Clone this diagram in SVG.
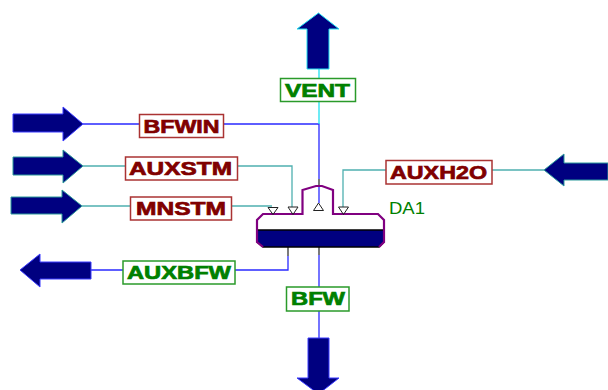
<svg xmlns="http://www.w3.org/2000/svg" width="608" height="390" viewBox="0 0 608 390">
<style>
.lbl{fill:#fff;stroke-width:1.5}
.r rect{stroke:#a33}
.g rect{stroke:#2a9a2a}
.lt{font-family:"Liberation Sans",Arial,sans-serif;font-weight:700;font-size:19px;stroke-width:.7;text-anchor:start}
.r text{fill:#800000;stroke:#800000}
.g text{fill:#008000;stroke:#008000}
.c{fill:none;stroke-width:1.3}
.b{stroke:#2a2aff}
.t{stroke:#4fb0b0}
.n{stroke:#20e0f0}
.k{stroke:#333;fill:none;stroke-width:1.3}
.ar{fill:#000080;stroke-width:1}
.tri{fill:none;stroke:#222;stroke-width:1}
</style>
<rect width="608" height="390" fill="#fff"/>
<g id="connectors">
<path class="c b" d="M83 124H139M224 124H319V179"/>
<path class="c n" d="M319 69V78M319 101V124"/>
<path class="c t" d="M83 166H125M238 166H292V207"/>
<path class="c t" d="M82 206H130M231 206H272"/>
<path class="c t" d="M544 170H492M386 170H343V207"/>
<path class="c b" d="M91 270H123M235 270H288V256"/>
<path class="k" d="M288 256V247"/>
<path class="c b" d="M319 255V287"/>
<path class="c b" d="M319 311V338"/>
<path class="k" d="M319 247V255M319 179V186"/>
</g>
<g id="VENT-arrow"><path class="ar" stroke="#20e0f0" d="M307 69V29H297L318.500 13L339 29H329V69Z"/></g>
<g id="BFWIN-arrow"><path class="ar" stroke="#3a3aff" d="M13 114H63V107L83 124L63 141V132H13Z"/></g>
<g id="AUXSTM-arrow"><path class="ar" stroke="#2a9a9a" d="M13 157H63V150L83 166L63 183V175H13Z"/></g>
<g id="MNSTM-arrow"><path class="ar" stroke="#2a9a9a" d="M11 197H62V190L82 206L62 223V214H11Z"/></g>
<g id="AUXBFW-arrow"><path class="ar" stroke="#3a3aff" d="M91 262H40V254L20 270L40 287V279H91Z"/></g>
<g id="AUXH2O-arrow"><path class="ar" stroke="#2a9a9a" d="M608 163H564V154L544 170L564 186V180H608Z"/></g>
<g id="BFW-arrow"><path class="ar" stroke="#3a3aff" d="M308 338H329V378H339L318.500 394L297 378H308Z"/></g>
<g id="VENT" class="g"><rect class="lbl" x="280.500" y="78.500" width="75" height="23"/><text class="lt" x="285" y="96.500" textLength="65" lengthAdjust="spacingAndGlyphs">VENT</text></g>
<g id="BFWIN" class="r"><rect class="lbl" x="139.500" y="114.500" width="84" height="23"/><text class="lt" x="143.500" y="132.500" textLength="76" lengthAdjust="spacingAndGlyphs">BFWIN</text></g>
<g id="AUXSTM" class="r"><rect class="lbl" x="125.500" y="157" width="112" height="23"/><text class="lt" x="129" y="174.500" textLength="103" lengthAdjust="spacingAndGlyphs">AUXSTM</text></g>
<g id="MNSTM" class="r"><rect class="lbl" x="130.500" y="197" width="101" height="23"/><text class="lt" x="136" y="214.500" textLength="90" lengthAdjust="spacingAndGlyphs">MNSTM</text></g>
<g id="AUXH2O" class="r"><rect class="lbl" x="386" y="160.500" width="106" height="23.500"/><text class="lt" x="390" y="178.500" textLength="97" lengthAdjust="spacingAndGlyphs">AUXH2O</text></g>
<g id="AUXBFW" class="g"><rect class="lbl" x="123" y="261" width="112" height="23"/><text class="lt" x="127" y="278.500" textLength="104" lengthAdjust="spacingAndGlyphs">AUXBFW</text></g>
<g id="BFW" class="g"><rect class="lbl" x="286.500" y="287" width="62.500" height="24"/><text class="lt" x="291" y="305" textLength="54" lengthAdjust="spacingAndGlyphs">BFW</text></g>
<g id="DA1">
<path d="M257 230V220L263 214H302V190L316 186H322L333 190V214H378L384 220V230Z" fill="#fff"/>
<path d="M257 230H384V242L379 247H263L257 242Z" fill="#000080" stroke="#000" stroke-width="1.500"/>
<path d="M319 186V203" fill="none" stroke="#2a2aff" stroke-width="1.300"/>
<path d="M257 230V220L263 214H302.500V190L316 186H322L333 190V214H378L384 220V230M257 230V242L263 247M384 230V242L379 247" fill="none" stroke="#800080" stroke-width="2.200"/>
<path class="tri" d="M268 207.500H278L273 214.500Z"/>
<path class="tri" d="M288 207H298L293 214.500Z"/>
<path class="tri" d="M338.500 207H348.500L343.500 214.500Z"/>
<path class="tri" d="M313.500 210.500H323.500L318.500 203Z"/>
<text x="389" y="214" font-family="'Liberation Sans',Arial,sans-serif" font-size="16" fill="#008000" textLength="36" lengthAdjust="spacingAndGlyphs">DA1</text>
</g>
</svg>
